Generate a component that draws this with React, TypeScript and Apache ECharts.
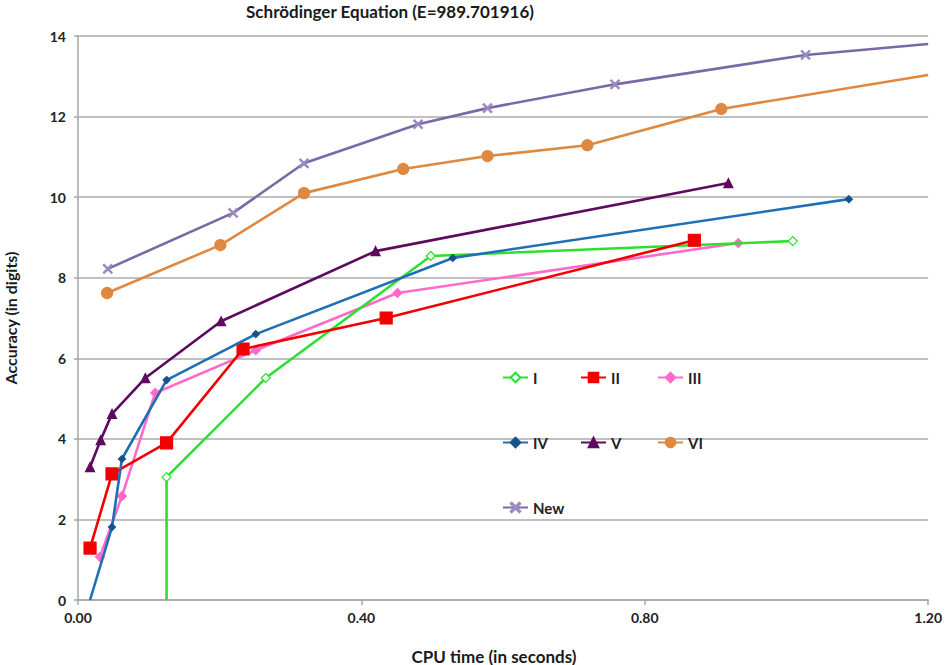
import React, { useEffect, useRef } from 'react';
import * as echarts from 'echarts';

const titleText = 'Schrödinger Equation (E=989.701916)';
const xAxisTitle = 'CPU time (in seconds)';
const yAxisTitle = 'Accuracy (in digits)';

const seriesNames = ['I', 'II', 'III', 'IV', 'V', 'VI', 'New'];

const timeI = [0.125, 0.125, 0.265, 0.498, 1.009];
const accI = [0, 3.05, 5.51, 8.54, 8.91];

const timeII = [0.017, 0.048, 0.125, 0.233, 0.435, 0.87];
const accII = [1.29, 3.13, 3.9, 6.23, 7.0, 8.93];

const timeIII = [0.031, 0.062, 0.109, 0.251, 0.451, 0.932];
const accIII = [1.07, 2.58, 5.14, 6.2, 7.62, 8.86];

const timeIV = [0.017, 0.048, 0.062, 0.125, 0.251, 0.529, 1.088];
const accIV = [0, 1.81, 3.5, 5.46, 6.6, 8.49, 9.95];

const timeV = [0.017, 0.032, 0.048, 0.095, 0.202, 0.42, 0.918];
const accV = [3.3, 3.97, 4.62, 5.51, 6.92, 8.66, 10.35];

const timeVI = [0.041, 0.201, 0.319, 0.459, 0.578, 0.719, 0.908, 1.2];
const accVI = [7.62, 8.81, 10.1, 10.7, 11.02, 11.29, 12.19, 13.03];

const timeNew = [0.042, 0.219, 0.319, 0.48, 0.578, 0.758, 1.027, 1.2];
const accNew = [8.22, 9.61, 10.84, 11.81, 12.21, 12.8, 13.53, 13.8];

const FONT = 'Lato, "Liberation Sans", sans-serif';
const crossPath =
  'path://M1,0 L5,4 L9,0 L10,1 L6,5 L10,9 L9,10 L5,6 L1,10 L0,9 L4,5 L0,1 Z';

function pts(xs: number[], ys: number[], hidden: number[] = []) {
  return xs.map((x, i) =>
    hidden.includes(i) ? { value: [x, ys[i]], symbol: 'none' } : { value: [x, ys[i]] }
  );
}

function line(
  name: string,
  data: any[],
  color: string,
  symbol: string,
  symbolSize: number,
  markerFill: string,
  markerBorder: string,
  z: number
) {
  return {
    type: 'line',
    name,
    data,
    symbol,
    symbolSize,
    showAllSymbol: true,
    clip: true,
    z,
    lineStyle: { color, width: 2.6 },
    itemStyle: { color: markerFill, borderColor: markerBorder, borderWidth: 1.2, opacity: 1 },
    emphasis: { disabled: true },
  };
}

export default function App() {
  const ref = useRef<HTMLDivElement>(null);
  useEffect(() => {
    if (!ref.current) return;
    const chart = echarts.init(ref.current, null, { renderer: 'svg' });
    const legendCommon = {
      orient: 'vertical',
      itemGap: 50,
      itemWidth: 25,
      itemHeight: 12,
      textStyle: { fontFamily: FONT, fontWeight: 'bold', fontSize: 15, color: '#222' },
      selectedMode: false,
    };
    chart.setOption({
      animation: false,
      backgroundColor: '#ffffff',
      grid: { left: 78, right: 15, top: 36, bottom: 65 },
      xAxis: {
        type: 'value',
        min: 0,
        max: 1.2,
        interval: 0.4,
        axisLine: { show: true, lineStyle: { color: '#a6a6a6', width: 1.5 } },
        axisTick: { show: true, length: 5, lineStyle: { color: '#a6a6a6', width: 1.5 } },
        splitLine: { show: false },
        axisLabel: {
          formatter: (v: number) => v.toFixed(2),
          fontFamily: FONT,
          fontWeight: 'bold',
          fontSize: 14,
          color: '#222',
          margin: 10,
        },
      },
      yAxis: {
        type: 'value',
        min: 0,
        max: 14,
        interval: 2,
        axisLine: { show: true, lineStyle: { color: '#a6a6a6', width: 1.5 } },
        axisTick: { show: true, length: 4, lineStyle: { color: '#a6a6a6', width: 1.5 } },
        splitLine: { show: true, lineStyle: { color: '#c0c0c0', width: 1.8 } },
        axisLabel: {
          fontFamily: FONT,
          fontWeight: 'bold',
          fontSize: 14,
          color: '#222',
          margin: 12,
        },
      },
      legend: [
        { ...legendCommon, left: 497, top: 365, data: [seriesNames[0], seriesNames[3], seriesNames[6]] },
        { ...legendCommon, left: 575, top: 365, data: [seriesNames[1], seriesNames[4]] },
        { ...legendCommon, left: 652, top: 365, data: [seriesNames[2], seriesNames[5]] },
      ],
      series: [
        line(seriesNames[0], pts(timeI, accI, [0]), '#2ee02e', 'diamond', 9, '#ffffff', '#2ee02e', 5),
        line(seriesNames[1], pts(timeII, accII), '#f20000', 'rect', 12, '#f20000', '#f20000', 6),
        line(seriesNames[2], pts(timeIII, accIII), '#ff6acb', 'diamond', 9, '#ff6acb', '#ff6acb', 4),
        line(seriesNames[3], pts(timeIV, accIV, [0]), '#1f6fb4', 'diamond', 7, '#17528a', '#17528a', 7),
        line(seriesNames[4], pts(timeV, accV), '#5e0a5e', 'triangle', 9, '#5e0a5e', '#5e0a5e', 3),
        line(seriesNames[5], pts(timeVI, accVI, [7]), '#de8840', 'circle', 11, '#de8840', '#de8840', 2),
        line(seriesNames[6], pts(timeNew, accNew, [7]), '#7b68a6', crossPath, 9, '#9a8bc0', '#9a8bc0', 1),
      ],
      graphic: [
        {
          type: 'text',
          x: 390,
          y: 11,
          style: {
            text: titleText,
            align: 'center',
            verticalAlign: 'middle',
            fontFamily: FONT,
            fontWeight: 'bold',
            fontSize: 17,
            fill: '#1a1a1a',
          },
        },
        {
          type: 'text',
          x: 494,
          y: 656,
          style: {
            text: xAxisTitle,
            align: 'center',
            verticalAlign: 'middle',
            fontFamily: FONT,
            fontWeight: 'bold',
            fontSize: 17,
            fill: '#1a1a1a',
          },
        },
        {
          type: 'text',
          x: 10,
          y: 318,
          rotation: Math.PI / 2,
          style: {
            text: yAxisTitle,
            align: 'center',
            verticalAlign: 'middle',
            fontFamily: FONT,
            fontWeight: 'bold',
            fontSize: 16,
            fill: '#1a1a1a',
          },
        },
      ],
    });
    return () => chart.dispose();
  }, []);
  return (
    <div
      ref={ref}
      style={{ position: 'fixed', left: 0, top: 0, width: 945, height: 665, background: '#fff' }}
    />
  );
}
